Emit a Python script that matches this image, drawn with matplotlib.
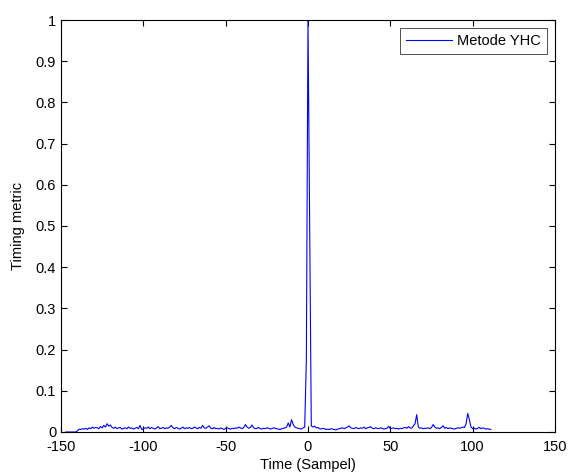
import numpy as np
import matplotlib
matplotlib.use('Agg')
import matplotlib.pyplot as plt

plt.rcParams['font.family'] = ['Liberation Sans', 'DejaVu Sans']
plt.rcParams['axes.unicode_minus'] = False

# timing metric, one value per sample from -147 to 111
time_start = -147
metric = [
    0, 0, 0, 0, 0, 0, 0, 0.003, 0.007, 0.006,
    0.008, 0.007, 0.009, 0.006, 0.01, 0.008, 0.012, 0.009, 0.011, 0.01,
    0.008, 0.013, 0.01, 0.016, 0.012, 0.02, 0.014, 0.017, 0.011, 0.009,
    0.012, 0.008, 0.01, 0.011, 0.007, 0.009, 0.01, 0.008, 0.012, 0.009,
    0.01, 0.007, 0.009, 0.011, 0.008, 0.016, 0.006, 0.008, 0.01, 0.009,
    0.012, 0.008, 0.011, 0.009, 0.007, 0.01, 0.013, 0.008, 0.009, 0.011,
    0.008, 0.01, 0.009, 0.012, 0.016, 0.01, 0.008, 0.011, 0.009, 0.007,
    0.009, 0.012, 0.008, 0.01, 0.009, 0.011, 0.008, 0.009, 0.012, 0.01,
    0.008, 0.011, 0.009, 0.016, 0.01, 0.009, 0.012, 0.015, 0.009, 0.008,
    0.011, 0.008, 0.009, 0.007, 0.01, 0.008, 0.006, 0.009, 0.01, 0.008,
    0.007, 0.009, 0.008, 0.01, 0.009, 0.012, 0.01, 0.008, 0.011, 0.018,
    0.012, 0.009, 0.011, 0.017, 0.01, 0.008, 0.009, 0.011, 0.008, 0.007,
    0.009, 0.008, 0.01, 0.009, 0.007, 0.008, 0.01, 0.009, 0.008, 0.007,
    0.006, 0.008, 0.009, 0.01, 0.012, 0.022, 0.012, 0.03, 0.018, 0.012,
    0.01, 0.009, 0.008, 0.007, 0.01, 0.012, 0.175, 1.0, 0.5, 0.015,
    0.012, 0.014, 0.01, 0.011, 0.008, 0.007, 0.009, 0.008, 0.006,
    0.007, 0.006, 0.008, 0.007, 0.006, 0.005, 0.007, 0.008, 0.009, 0.01,
    0.008, 0.01, 0.012, 0.015, 0.01, 0.009, 0.008, 0.011, 0.009, 0.008,
    0.01, 0.009, 0.012, 0.008, 0.01, 0.011, 0.013, 0.009, 0.008, 0.01,
    0.009, 0.008, 0.01, 0.009, 0.007, 0.008, 0.009, 0.014, 0.008, 0.009,
    0.01, 0.008, 0.009, 0.007, 0.009, 0.008, 0.01, 0.011, 0.009, 0.013,
    0.01, 0.009, 0.015, 0.02, 0.042, 0.012, 0.009, 0.01, 0.008, 0.009,
    0.009, 0.01, 0.008, 0.011, 0.018, 0.012, 0.009, 0.01, 0.008, 0.011,
    0.015, 0.009, 0.011, 0.008, 0.01, 0.009, 0.008, 0.007, 0.009, 0.01,
    0.009, 0.01, 0.012, 0.011, 0.02, 0.045, 0.03, 0.012, 0.008, 0.009,
    0.007, 0.009, 0.011, 0.008, 0.01, 0.009, 0.007, 0.008, 0.007, 0.006,
]
time = np.arange(time_start, time_start + len(metric))

xticks = [-150, -100, -50, 0, 50, 100, 150]
yticks = np.round(np.arange(0, 1.01, 0.1), 1)
ylabels = ['0'] + ['%.1f' % v for v in yticks[1:-1]] + ['1']

fig = plt.figure(figsize=(5.69, 4.73), dpi=100)
ax = fig.add_axes([0.1072, 0.0867, 0.8682, 0.871])
ax.plot(time, metric, '-', color='blue', lw=0.8, label='Metode YHC')
ax.set_xlim(-150, 150)
ax.set_ylim(0, 1)
ax.set_xticks(xticks)
ax.set_yticks(yticks)
ax.set_yticklabels(ylabels)
ax.tick_params(direction='in', top=True, right=True, labelsize=10.5, length=4)
ax.tick_params(axis='x', pad=5.5)
ax.set_xlabel('Time (Sampel)', fontsize=10.5, labelpad=3)
ax.set_ylabel('Timing metric', fontsize=10.5, labelpad=8)
leg = ax.legend(loc='upper right', fancybox=False, edgecolor='black', fontsize=10.5,
                handlelength=3.2, handletextpad=0.35, borderaxespad=0.55)
leg.get_frame().set_linewidth(0.6)

fig.savefig('out.png', dpi=100)
